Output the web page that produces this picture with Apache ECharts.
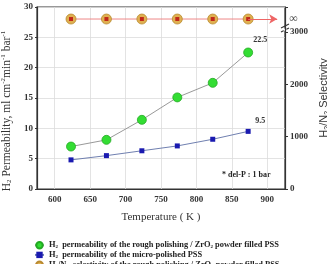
<!DOCTYPE html>
<html>
<head>
<meta charset="utf-8">
<script src="https://cdn.jsdelivr.net/npm/echarts@6/dist/echarts.min.js"></script>
<style>
  html, body { margin: 0; padding: 0; background: #fff; }
  #main { width: 327px; height: 264px; }
</style>
</head>
<body>
<div id="main"></div>
<script>
// temperatures (K)
var temps = [623, 673, 723, 773, 823, 873];
// H2 permeability, rough polishing / ZrO2 filled PSS
var roughPerm = [7.0, 8.1, 11.4, 15.1, 17.5, 22.5];
// H2 permeability, micro-polished PSS
var microPerm = [4.8, 5.5, 6.3, 7.1, 8.2, 9.5];
// H2/N2 selectivity (infinite, drawn on the "∞" row of the right axis)
var selectivity = [3250, 3250, 3250, 3250, 3250, 3250];
var xTicks = [600, 650, 700, 750, 800, 850, 900];
var names = [
  'H{sub|2}  permeability of the rough polishing / ZrO{sub|2} powder filled PSS',
  'H{sub|2}  permeability of the micro-polished PSS',
  'H{sub|2}/N{sub|2}  selectivity of the rough polishing / ZrO{sub|2} powder filled PSS'
];

function pairs(ys) {
  return temps.map(function (t, i) { return [t, ys[i]]; });
}

var serif = '"Liberation Serif", "DejaVu Serif", serif';
var tickFont = { fontFamily: serif, fontWeight: 'bold', fontSize: 9, color: '#333' };

var lastLabel = function (fmt) {
  return {
    show: true,
    position: 'top',
    distance: 4,
    offset: [12, 0],
    fontFamily: serif,
    fontWeight: 'bold',
    fontSize: 8,
    color: '#333',
    formatter: function (p) {
      return p.dataIndex === temps.length - 1 ? fmt(p.value[1]) : '';
    }
  };
};

var chart = echarts.init(document.getElementById('main'));
chart.setOption({
  animation: false,
  backgroundColor: '#fff',
  grid: {
    left: 37, right: 42, top: 7, bottom: 75,
    outerBoundsMode: 'none',
    show: true, borderColor: '#333', borderWidth: 1.2
  },
  legend: {
    orient: 'vertical',
    left: 29,
    top: 236,
    height: 60,
    itemGap: 1.5,
    itemWidth: 9,
    itemHeight: 8,
    data: [names[0], names[1], names[2]],
    formatter: function (n) { return n; },
    textStyle: {
      fontFamily: serif, fontWeight: 'bold', fontSize: 8.4, color: '#222',
      lineHeight: 8,
      rich: { sub: { fontSize: 5, verticalAlign: 'bottom', fontFamily: serif, fontWeight: 'bold', padding: [4, 0, 0, 0] } }
    }
  },
  xAxis: {
    type: 'value',
    min: 575,
    max: 925,
    name: 'Temperature ( K )',
    nameLocation: 'middle',
    nameGap: 23,
    nameTextStyle: { fontFamily: serif, fontSize: 11, color: '#333' },
    axisLine: { lineStyle: { color: '#333', width: 1.2 } },
    axisTick: { show: false, customValues: xTicks },
    axisLabel: Object.assign({ customValues: xTicks, margin: 6 }, tickFont),
    splitLine: { show: true, lineStyle: { color: '#dcdcdc', width: 0.8 } }
  },
  yAxis: [{
    type: 'value',
    min: 0,
    max: 30,
    interval: 5,
    name: 'H{sub|2} Permeability, ml cm{sup|-2}min{sup|-1} bar{sup|-1}',
    nameLocation: 'middle',
    nameGap: 19,
    nameTextStyle: {
      fontFamily: serif, fontSize: 11.5, color: '#333',
      padding: [0, 26, 0, 0],
      rich: {
        sub: { fontFamily: serif, fontSize: 7, verticalAlign: 'bottom', padding: [6, 0, 0, 0] },
        sup: { fontFamily: serif, fontSize: 7, verticalAlign: 'top', padding: [0, 0, 6, 0] }
      }
    },
    axisLine: { show: true, lineStyle: { color: '#333', width: 1.2 } },
    axisTick: { show: true, length: 2, lineStyle: { color: '#333' } },
    axisLabel: Object.assign({ margin: 4 }, tickFont),
    splitLine: { show: true, lineStyle: { color: '#dcdcdc', width: 0.8 } }
  }, {
    type: 'value',
    min: 0,
    max: 3480,
    interval: 1000,
    position: 'right',
    name: 'H{sub|2}/N{sub|2} Selectivity',
    nameLocation: 'middle',
    nameGap: 28,
    nameRotate: 90,
    nameTextStyle: {
      fontFamily: '"Liberation Sans", Arial, sans-serif', fontSize: 11, color: '#333',
      rich: { sub: { fontFamily: '"Liberation Sans", Arial, sans-serif', fontSize: 7, verticalAlign: 'bottom', padding: [5, 0, 0, 0] } }
    },
    axisLine: { show: true, lineStyle: { color: '#333', width: 1.2 } },
    axisTick: { show: true, inside: false, length: 3, lineStyle: { color: '#333' } },
    axisLabel: Object.assign({
      margin: 5,
      formatter: function (v) { return v % 1000 === 0 ? String(v) : ''; }
    }, tickFont),
    splitLine: { show: false }
  }],
  graphic: [
    { type: 'line', shape: { x1: 281, y1: 28, x2: 289, y2: 24 }, style: { stroke: '#333', lineWidth: 1.2 } },
    { type: 'line', shape: { x1: 281, y1: 32, x2: 289, y2: 28 }, style: { stroke: '#333', lineWidth: 1.2 } },
    { type: 'rect', shape: { x: 283.5, y: 28.6, width: 3, height: 2.2 }, style: { fill: '#fff' } },
    {
      type: 'text', left: 222, top: 171,
      style: { text: '* del-P : 1 bar', fontFamily: serif, fontWeight: 'bold', fontSize: 8, fill: '#222' }
    }
  ],
  series: [{
    name: names[0],
    type: 'line',
    data: pairs(roughPerm),
    symbol: 'circle',
    symbolSize: 9,
    itemStyle: { color: '#33dd33', borderColor: '#22aa22', borderWidth: 0.8 },
    lineStyle: { color: '#999', width: 1 },
    label: lastLabel(function (v) { return v.toFixed(1); }),
    z: 3
  }, {
    name: names[1],
    type: 'line',
    data: pairs(microPerm),
    symbol: 'rect',
    symbolSize: 5,
    itemStyle: { color: '#1a1ab0' },
    lineStyle: { color: '#7080b0', width: 1 },
    label: lastLabel(function (v) { return v.toFixed(1); }),
    z: 3
  }, {
    name: names[2],
    type: 'line',
    yAxisIndex: 1,
    data: pairs(selectivity),
    symbol: 'circle',
    symbolSize: 10,
    itemStyle: { color: '#e0b050', borderColor: '#b88a30', borderWidth: 0.8 },
    lineStyle: { color: '#ee8888', width: 1 },
    markLine: {
      silent: true,
      symbol: ['none', 'arrow'],
      symbolSize: [7, 8],
      lineStyle: { color: '#ee6666', width: 1, type: 'solid' },
      itemStyle: { color: '#dd2222' },
      label: {
        show: true, position: 'end', distance: 12,
        formatter: '\u221e', fontSize: 12, color: '#444', fontFamily: serif
      },
      data: [[
        { coord: [temps[temps.length - 1], selectivity[selectivity.length - 1]] },
        { coord: [914, selectivity[selectivity.length - 1]] }
      ]]
    },
    z: 3
  }, {
    name: 'core',
    type: 'line',
    yAxisIndex: 1,
    data: pairs(selectivity),
    symbol: 'rect',
    symbolSize: 4,
    itemStyle: { color: '#c0281a' },
    lineStyle: { opacity: 0 },
    z: 4
  }]
});
</script>
</body>
</html>
